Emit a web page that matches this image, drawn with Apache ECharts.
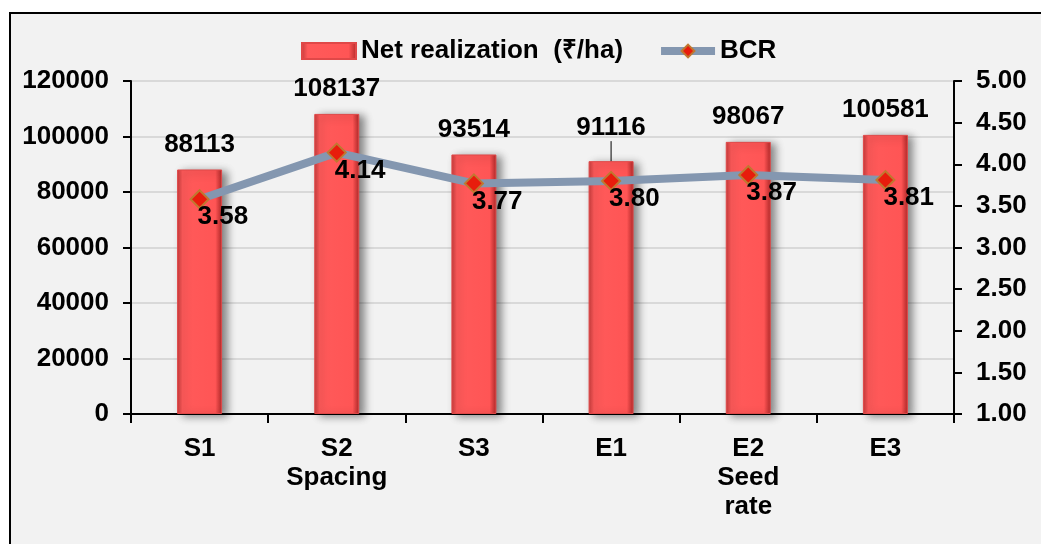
<!DOCTYPE html>
<html>
<head>
<meta charset="utf-8">
<script src="https://cdn.jsdelivr.net/npm/echarts@6/dist/echarts.min.js"></script>
<style>
  html, body { margin: 0; padding: 0; background: #ffffff; }
  #chart { width: 1041px; height: 544px; }
</style>
</head>
<body>
<div id="chart"></div>
<script>
// data
const categories = ['S1', 'S2\nSpacing', 'S3', 'E1', 'E2\nSeed\nrate', 'E3'];
const netRealization = [88113, 108137, 93514, 91116, 98067, 100581];
const bcr = [3.58, 4.14, 3.77, 3.80, 3.87, 3.81];

const myChart = echarts.init(document.getElementById('chart'), null, {renderer: 'canvas'});

const font = 'Arial, "Liberation Sans", sans-serif';
const fs = 26;

// E1 label is lifted a bit in the original, with a small leader line
const barData = netRealization.map((v, i) =>
  i === 3 ? {value: v, labelLine: {show: true, lineStyle: {color: '#000', width: 1}}} : v
);

const option = {
  backgroundColor: '#ffffff',
  animation: false,
  textStyle: {fontFamily: font},
  // chart frame
  graphic: [{
    type: 'rect',
    z: -10,
    shape: {x: 10, y: 13, width: 1060, height: 560},
    style: {fill: '#f2f2f2', stroke: '#000000', lineWidth: 2}
  }],
  legend: {
    top: 33,
    left: 296,
    itemGap: 34,
    itemWidth: 54,
    itemHeight: 16,
    textStyle: {fontSize: fs, fontWeight: 'bold', color: '#000', fontFamily: font},
    data: [
      {name: 'Net realization  (₹/ha)', icon: 'rect'},
      {name: 'BCR', lineStyle: {width: 8}}
    ]
  },
  grid: {left: 131, right: 87, top: 81, bottom: 130},
  xAxis: {
    type: 'category',
    data: categories,
    axisLine: {lineStyle: {color: '#000', width: 2}},
    axisTick: {show: true, inside: false, length: 9, lineStyle: {color: '#000', width: 2}},
    axisLabel: {
      color: '#000', fontSize: fs, fontWeight: 'bold', fontFamily: font,
      margin: 20, lineHeight: 29, interval: 0
    }
  },
  yAxis: [{
    type: 'value',
    min: 0,
    max: 120000,
    interval: 20000,
    axisLine: {show: true, lineStyle: {color: '#000', width: 2}},
    axisTick: {show: true, length: 8, lineStyle: {color: '#000', width: 2}},
    axisLabel: {
      color: '#000', fontSize: fs, fontWeight: 'bold', fontFamily: font, margin: 22,
      formatter: v => String(v)
    },
    splitLine: {lineStyle: {color: '#d9d9d9', width: 2}}
  }, {
    type: 'value',
    min: 1,
    max: 5,
    interval: 0.5,
    axisLine: {show: true, lineStyle: {color: '#000', width: 2}},
    axisTick: {show: true, length: 8, lineStyle: {color: '#000', width: 2}},
    axisLabel: {
      color: '#000', fontSize: fs, fontWeight: 'bold', fontFamily: font, margin: 22,
      formatter: v => v.toFixed(2)
    },
    splitLine: {show: false}
  }],
  series: [{
    name: 'Net realization  (₹/ha)',
    type: 'bar',
    barWidth: 45,
    data: barData,
    itemStyle: {
      color: {
        type: 'linear', x: 0, y: 0, x2: 1, y2: 0,
        colorStops: [
          {offset: 0, color: '#c23a3a'},
          {offset: 0.12, color: '#ff5a5a'},
          {offset: 0.85, color: '#ff5555'},
          {offset: 1, color: '#b02828'}
        ]
      },
      borderColor: '#e04848',
      borderWidth: 1,
      shadowColor: 'rgba(0,0,0,0.45)',
      shadowBlur: 8,
      shadowOffsetX: 5,
      shadowOffsetY: 2
    },
    label: {
      show: true,
      position: 'top',
      distance: 12,
      color: '#000',
      fontSize: fs,
      fontWeight: 'bold',
      fontFamily: font
    },
    labelLayout: p => (p.dataIndex === 3 ? {dy: -8} : {}),
    labelLine: {show: false},
    z: 2
  }, {
    name: 'BCR',
    type: 'line',
    yAxisIndex: 1,
    data: bcr,
    symbol: 'diamond',
    symbolSize: 18,
    lineStyle: {color: '#8497b0', width: 8},
    itemStyle: {color: '#e81c0c', borderColor: '#c07830', borderWidth: 2},
    label: {
      show: true,
      position: [8, 15],
      color: '#000',
      fontSize: fs,
      fontWeight: 'bold',
      fontFamily: font,
      formatter: p => p.value.toFixed(2)
    },
    z: 3
  }]
};

myChart.setOption(option);
</script>
</body>
</html>
